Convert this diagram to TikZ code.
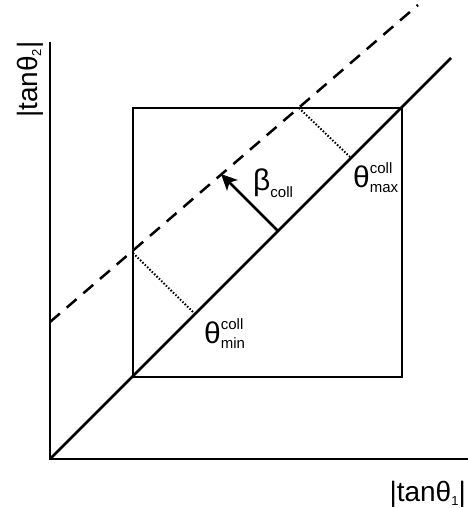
\documentclass[tikz,border=0pt]{standalone}
\usepackage{fontspec}
\setmainfont{Liberation Sans}
\usetikzlibrary{arrows.meta}
\newcommand{\scr}[1]{{\fontsize{15}{15}\selectfont #1}}
\newcommand{\thlab}[1]{θ\rlap{\raisebox{14pt}{\scr{coll}}}\raisebox{-5pt}{\scr{#1}}}
\begin{document}
\begin{tikzpicture}[x=1pt,y=-1pt,
  ln/.style={line width=2.5pt, line cap=butt},
  dashln/.style={line width=2.5pt, dash pattern=on 13pt off 9pt},
  dotln/.style={line width=2pt, dash pattern=on 1.5pt off 1.8pt},
  lab/.style={inner sep=0pt, font=\fontsize{30}{30}\selectfont},
  axlab/.style={inner sep=0pt, font=\fontsize{28}{28}\selectfont}]
\useasboundingbox (0,0) rectangle (467,508);
% named points
\coordinate (O) at (50,459);
\coordinate (ytop) at (50,43);
\coordinate (xend) at (467,459);
\coordinate (sqTL) at (133,108);
\coordinate (sqBR) at (402,377);
\coordinate (diagEnd) at (451,58);
\coordinate (dashStart) at (50,322);
\coordinate (dashEnd) at (418,5);
\coordinate (dU1) at (299,108);
\coordinate (dU2) at (350,157);
\coordinate (dL1) at (133,253);
\coordinate (dL2) at (195,314);
\coordinate (arrS) at (278,231);
\coordinate (arrE) at (221,174);
% axes
\draw[ln, line cap=rect] (ytop) -- (O) -- (xend);
% square
\draw[ln] (sqTL) rectangle (sqBR);
% lines
\draw[ln] (O) -- (diagEnd);
\draw[dashln] (dashStart) -- (dashEnd);
\draw[dotln] (dU1) -- (dU2);
\draw[dotln] (dL1) -- (dL2);
\draw[ln, -{Stealth[length=16pt,width=15pt,inset=4pt]}] (arrS) -- (arrE);
% labels
\node[lab, anchor=base west] (beta) at (253,190) {β\raisebox{-7pt}{\scr{coll}}};
\node[lab, anchor=base west] (tmax) at (353,187) {\thlab{max}};
\node[lab, anchor=base west] (tmin) at (204,343) {\thlab{min}};
\node[axlab, anchor=base east] (xl) at (466,501) {|tanθ\raisebox{-4pt}{\fontsize{13}{13}\selectfont 1}|};
\node[axlab, anchor=base west, rotate=90] (yl) at (37,118) {|tanθ\raisebox{-4pt}{\fontsize{13}{13}\selectfont 2}|};
\end{tikzpicture}
\end{document}
